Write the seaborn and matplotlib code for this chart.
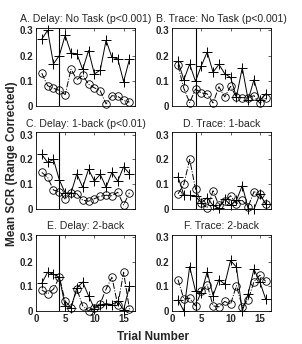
import numpy as np
import pandas as pd
import seaborn as sns
import matplotlib
matplotlib.use('Agg')
import matplotlib.pyplot as plt

sns.set_style('white')
plt.rcParams['font.family'] = ['Liberation Sans', 'DejaVu Sans']

trials = list(range(1, 17))

titles = ['A. Delay: No Task (p<0.001)', 'B. Trace: No Task (p<0.001)',
          'C. Delay: 1-back (p<0.01)', 'D. Trace: 1-back',
          'E. Delay: 2-back', 'F. Trace: 2-back']

# '+' series (solid line) and 'o' series (dash-dot line), one pair per panel
plus_a = [0.265, 0.30, 0.167, 0.20, 0.28, 0.21, 0.207, 0.145, 0.22, 0.127, 0.142, 0.26, 0.193, 0.187, 0.097, 0.185]
circ_a = [0.13, 0.08, 0.07, 0.062, 0.045, 0.146, 0.104, 0.122, 0.086, 0.072, 0.06, 0.008, 0.041, 0.038, 0.022, 0.015]
plus_b = [0.177, 0.104, 0.166, 0.098, 0.16, 0.214, 0.134, 0.165, 0.128, 0.113, 0.035, 0.152, 0.024, 0.104, 0.022, 0.048]
circ_b = [0.161, 0.07, 0.013, 0.067, 0.052, 0.048, 0.012, 0.076, 0.036, 0.078, 0.034, 0.033, 0.032, 0.041, 0.011, 0.03]
plus_c = [0.22, 0.188, 0.2, 0.118, 0.065, 0.065, 0.142, 0.088, 0.16, 0.113, 0.14, 0.088, 0.148, 0.113, 0.17, 0.143]
circ_c = [0.148, 0.128, 0.077, 0.07, 0.04, 0.066, 0.062, 0.036, 0.032, 0.042, 0.052, 0.056, 0.054, 0.068, 0.017, 0.066]
plus_d = [0.13, 0.057, 0.055, 0.052, 0.025, 0.046, 0.015, 0.004, 0.04, 0.017, 0.035, 0.095, 0.002, 0.0, 0.06, 0.021]
circ_d = [0.061, 0.1, 0.2, 0.082, 0.025, 0.005, 0.074, 0.015, 0.032, 0.054, 0.022, 0.035, 0.01, 0.07, 0.062, 0.022]
plus_e = [0.113, 0.158, 0.15, 0.138, 0.02, 0.014, 0.093, 0.118, 0.062, 0.01, 0.024, 0.03, 0.026, 0.04, 0.005, 0.1]
circ_e = [0.086, 0.07, 0.089, 0.138, 0.04, 0.014, 0.089, 0.021, 0.0, 0.014, 0.03, 0.089, 0.138, 0.024, 0.158, 0.007]
plus_f = [0.046, 0.0, 0.181, 0.081, 0.073, 0.16, 0.063, 0.128, 0.109, 0.206, 0.179, 0.0, 0.07, 0.17, 0.119, 0.049]
circ_f = [0.128, 0.049, 0.052, 0.021, 0.08, 0.107, 0.021, 0.017, 0.039, 0.028, 0.103, 0.017, 0.046, 0.119, 0.146, 0.121]

plus_all = [plus_a, plus_b, plus_c, plus_d, plus_e, plus_f]
circ_all = [circ_a, circ_b, circ_c, circ_d, circ_e, circ_f]

onset = 4

fig = plt.figure(figsize=(3.02, 3.44), dpi=100)
lefts = [0.119, 0.570]
rows = [(0.692, 0.227), (0.392, 0.224), (0.096, 0.221)]

for i in range(6):
    r, c = divmod(i, 2)
    ax = fig.add_axes([lefts[c], rows[r][0], 0.329, rows[r][1]])
    d = pd.DataFrame({'trial': trials, 'plus': plus_all[i], 'circ': circ_all[i]})
    sns.lineplot(data=d, x='trial', y='circ', ax=ax, color='k', lw=0.7,
                 linestyle='-.', marker='o', ms=5.4, mfc='none', mec='k',
                 mew=0.6, clip_on=False)
    sns.lineplot(data=d, x='trial', y='plus', ax=ax, color='k', lw=0.7,
                 marker='+', ms=6.5, mec='k', mew=0.7, clip_on=False)
    ax.axvline(onset, color='k', lw=0.8)
    ax.set_xlim(0, 17)
    ax.set_ylim(0, 0.31)
    ax.set_xticks([0, 5, 10, 15])
    ax.set_yticks([0, 0.1, 0.2, 0.3])
    ax.set_yticklabels(['0', '0.1', '0.2', '0.3'])
    if r < 2:
        ax.set_xticklabels([])
    ax.set_xlabel('')
    ax.set_ylabel('')
    ax.tick_params(direction='in', length=2, width=0.5, top=True, right=True,
                   labelsize=7, pad=2)
    for lab in ax.get_xticklabels() + ax.get_yticklabels():
        lab.set_fontweight('bold')
    for s in ax.spines.values():
        s.set_linewidth(0.6)
        s.set_color('k')
    ax.set_title(titles[i], fontsize=7.6, pad=4)

fig.text(0.04, 0.523, 'Mean SCR (Range Corrected)', rotation=90, ha='center',
         va='center', fontsize=8.5, fontweight='bold')
fig.text(0.505, 0.02, 'Trial Number', ha='center', va='center',
         fontsize=8.5, fontweight='bold')

fig.savefig('out.png', dpi=100)
